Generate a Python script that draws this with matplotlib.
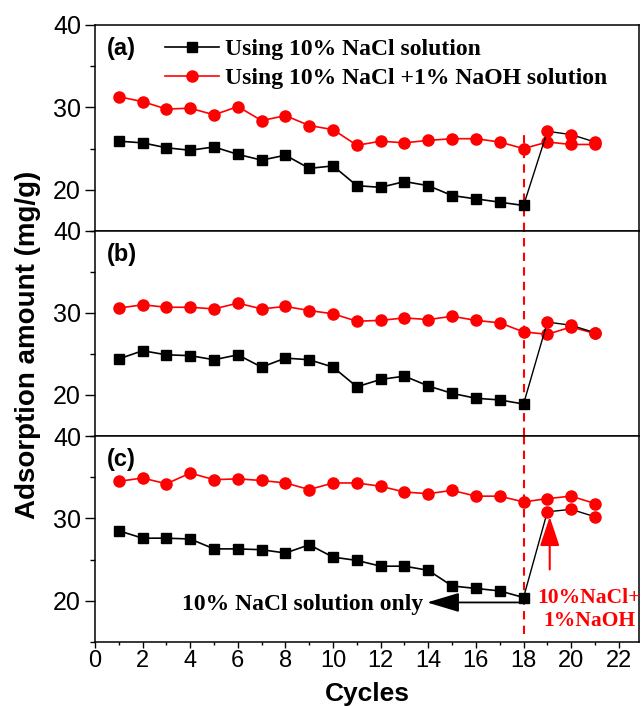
import matplotlib
matplotlib.use("Agg")
import matplotlib.pyplot as plt
from matplotlib.ticker import MultipleLocator

# cycles
cycles = list(range(1, 22))
cycles_a = list(range(1, 19))      # NaCl only part
cycles_b = [18, 19, 20, 21]        # after switching (start at 18 for the link)

# panel (a)
nacl_a = [25.9, 25.7, 25.1, 24.8, 25.2, 24.3, 23.6, 24.2, 22.6, 22.9,
          20.5, 20.3, 21.0, 20.5, 19.3, 18.9, 18.5, 18.1]
nacl_after_a = [27.1, 26.7, 25.8]
naoh_a = [31.3, 30.7, 29.8, 29.9, 29.1, 30.1, 28.4, 29.0, 27.8, 27.3,
          25.4, 25.9, 25.7, 26.0, 26.2, 26.2, 25.8, 25.0, 25.8, 25.5, 25.5]

# panel (b)
nacl_b = [24.4, 25.4, 24.9, 24.8, 24.3, 24.9, 23.4, 24.5, 24.3, 23.4,
          21.0, 21.9, 22.3, 21.1, 20.2, 19.6, 19.4, 18.9]
nacl_after_b = [28.9, 28.5, 27.6]
naoh_b = [30.6, 31.0, 30.7, 30.7, 30.5, 31.2, 30.5, 30.8, 30.3, 29.9,
          29.0, 29.1, 29.4, 29.2, 29.6, 29.1, 28.8, 27.7, 27.4, 28.3, 27.5]

# panel (c)
nacl_c = [28.5, 27.6, 27.6, 27.5, 26.3, 26.3, 26.2, 25.8, 26.8, 25.3,
          24.9, 24.2, 24.2, 23.7, 21.8, 21.5, 21.2, 20.4]
nacl_after_c = [30.8, 31.1, 30.2]
naoh_c = [34.5, 34.9, 34.2, 35.5, 34.7, 34.8, 34.6, 34.3, 33.5, 34.3,
          34.3, 33.9, 33.2, 33.0, 33.4, 32.7, 32.7, 32.0, 32.4, 32.7, 31.8]

panels = [
    ("(a)", nacl_a, nacl_after_a, naoh_a),
    ("(b)", nacl_b, nacl_after_b, naoh_b),
    ("(c)", nacl_c, nacl_after_c, naoh_c),
]

SANS = "Liberation Sans"
SERIF = "Liberation Serif"
plt.rcParams['font.family'] = SANS

fig = plt.figure(figsize=(6.41, 7.06), dpi=100)
left, width = 95 / 641, 544 / 641
tops = [25, 231, 436]
bottoms = [231, 436, 642]

axes = []
for i, (lab, nacl, nacl_after, naoh) in enumerate(panels):
    b = 1 - bottoms[i] / 706
    h = (bottoms[i] - tops[i]) / 706
    ax = fig.add_axes([left, b, width, h])
    axes.append(ax)

    # red series
    ax.plot(cycles, naoh, color='red', lw=1.2, marker='o', ms=8,
            mec='red', mfc='red', zorder=3,
            label='Using 10% NaCl +1% NaOH solution')
    # black series
    ax.plot(cycles_a, nacl, color='black', lw=1.2, marker='s', ms=7,
            mec='black', mfc='black', zorder=4,
            label='Using 10% NaCl solution')
    ax.plot(cycles_b, [nacl[-1]] + nacl_after, color='black', lw=1.0, zorder=4)
    ax.plot(cycles_b[1:], nacl_after, ls='none', marker='o', ms=8,
            mec='red', mfc='red', zorder=5)

    ax.set_xlim(0, 22.85)
    ax.set_ylim(15, 40)
    ax.set_yticks([20, 30, 40])
    ax.yaxis.set_minor_locator(MultipleLocator(5))
    ax.tick_params(axis='y', which='major', direction='out', length=7,
                   width=1, labelsize=18, pad=3)
    ax.tick_params(axis='y', which='minor', direction='out', length=3.5, width=1)
    ax.xaxis.set_major_locator(MultipleLocator(2))
    ax.xaxis.set_minor_locator(MultipleLocator(1))
    for s in ax.spines.values():
        s.set_linewidth(1.1)

    ax.text(0.022, 0.94, lab, transform=ax.transAxes, ha='left', va='top',
            fontsize=17, fontweight='bold', family=SANS)

ax_a, ax_b, ax_c = axes

# x ticks: only bottom of (a) and (c)
ax_a.tick_params(axis='x', which='major', direction='out', length=4, width=1,
                 labelbottom=False)
ax_a.tick_params(axis='x', which='minor', direction='out', length=2.5, width=1)
ax_b.tick_params(axis='x', which='both', bottom=False, labelbottom=False)
ax_c.tick_params(axis='x', which='major', direction='out', length=4, width=1,
                 labelsize=17, pad=2)
ax_c.tick_params(axis='x', which='minor', direction='out', length=2.5, width=1)

fig.text(367 / 641, 1 - 694 / 706, "Cycles", ha='center', va='center',
         fontsize=19, fontweight='bold')
fig.text(28 / 641, 1 - 345 / 706, "Adsorption amount (mg/g)", rotation=90,
         ha='center', va='center', fontsize=20, fontweight='bold')

# dashed switch line at cycle 18
dash = dict(color='red', lw=1.5, ls=(0, (4, 3)), zorder=2)
ax_a.axvline(18, ymin=0, ymax=(27.3 - 15) / 25, **dash)
ax_b.axvline(18, ymin=0, ymax=1, **dash)
ax_c.axvline(18, ymin=(16 - 15) / 25, ymax=1, **dash)

# legend
h, l = ax_a.get_legend_handles_labels()
ax_a.legend([h[1], h[0]], [l[1], l[0]], loc='upper left',
            bbox_to_anchor=(0.129, 0.935), frameon=False, borderpad=0,
            borderaxespad=0, handlelength=2.3, handletextpad=0.25,
            labelspacing=0.33,
            prop=dict(family=SERIF, weight='bold', size=17))

# annotations in (c)
ax_c.annotate('', xy=(13.95, 19.8), xytext=(18, 19.8),
              arrowprops=dict(arrowstyle='-|>,head_length=1.0,head_width=0.3',
                              color='black', lw=1.3, mutation_scale=20,
                              shrinkA=0, shrinkB=0))
ax_c.text(13.8, 19.5, "10% NaCl solution only", ha='right', va='center',
          fontsize=17, fontweight='bold', family=SERIF, color='black')
ax_c.annotate('', xy=(19.1, 30.2), xytext=(19.1, 23.8),
              arrowprops=dict(arrowstyle='-|>,head_length=0.9,head_width=0.3',
                              color='red', lw=1.5, mutation_scale=20,
                              shrinkA=0, shrinkB=0))
ax_c.text(20.76, 19.0, "10%NaCl+\n1%NaOH", ha='center', va='center',
          fontsize=15.5, fontweight='bold', family=SERIF, color='red',
          linespacing=1.2, clip_on=False)

fig.savefig("out.png", dpi=100)
